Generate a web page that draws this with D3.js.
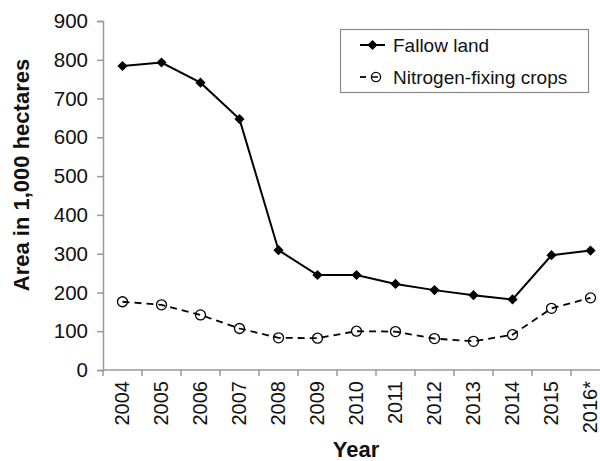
<!DOCTYPE html>
<html>
<head>
<meta charset="utf-8">
<script src="https://cdn.jsdelivr.net/npm/d3@7"></script>
<style>
  body { margin: 0; background: #fff; }
  text { font-family: "Liberation Sans", Arial, sans-serif; fill: #111; }
</style>
</head>
<body>
<svg id="chart" width="600" height="461"></svg>
<script>
// values (1,000 ha)
const years = ["2004", "2005", "2006", "2007", "2008", "2009", "2010", "2011", "2012", "2013", "2014", "2015", "2016*"];
const fallow = [784, 793, 741, 647, 309, 245, 245, 222, 206, 193, 182, 296, 308];
const nitrogen = [176, 168, 142, 107, 83, 82, 100, 99, 81, 74, 91, 159, 186];
const yTicks = [0, 100, 200, 300, 400, 500, 600, 700, 800, 900];

const svg = d3.select("#chart");
const axisColor = "#999";

const x = d3.scaleBand().domain(years).range([103, 610]);
const y = d3.scaleLinear().domain([0, 900]).range([370, 21]);

// y axis
const yAxis = svg.append("g")
    .attr("transform", "translate(103,0)")
    .call(d3.axisLeft(y).tickValues(yTicks).tickSize(6).tickPadding(9));
yAxis.select(".domain").attr("stroke", axisColor).attr("stroke-width", 1.5);
yAxis.selectAll(".tick line").attr("stroke", axisColor).attr("stroke-width", 1.5);
yAxis.selectAll(".tick text").attr("font-size", 20.5).attr("fill", "#111")
    .attr("font-family", "Liberation Sans, Arial, sans-serif");

// x axis line + ticks between categories
svg.append("line")
    .attr("x1", 103).attr("x2", 610)
    .attr("y1", y(0)).attr("y2", y(0))
    .attr("stroke", axisColor).attr("stroke-width", 1.5);

svg.selectAll(".xtick")
    .data(years)
    .enter()
    .append("line")
    .attr("x1", d => x(d)).attr("x2", d => x(d))
    .attr("y1", y(0)).attr("y2", y(0) + 6)
    .attr("stroke", axisColor).attr("stroke-width", 1.5);

svg.selectAll(".xlabel")
    .data(years)
    .enter()
    .append("text")
    .attr("transform", d => `translate(${x(d) + x.bandwidth() / 2 - 1},${y(0) + 11}) rotate(-90)`)
    .attr("text-anchor", "end")
    .attr("dy", "0.35em")
    .attr("font-size", 20)
    .text(d => d);

// axis titles
svg.append("text")
    .attr("transform", `translate(29,${y(0) - 195}) rotate(-90)`)
    .attr("text-anchor", "middle")
    .attr("font-size", 22)
    .attr("font-weight", "bold")
    .text("Area in 1,000 hectares");

svg.append("text")
    .attr("x", 356).attr("y", 457)
    .attr("text-anchor", "middle")
    .attr("font-size", 22)
    .attr("font-weight", "bold")
    .text("Year");

const cx = (d, i) => x(years[i]) + x.bandwidth() / 2;
const line = d3.line().x(cx).y(d => y(d));

// nitrogen-fixing crops, dashed with open circles
svg.append("path")
    .datum(nitrogen)
    .attr("d", line)
    .attr("fill", "none")
    .attr("stroke", "#000")
    .attr("stroke-width", 1.8)
    .attr("stroke-dasharray", "7,5");

svg.selectAll(".ncirc")
    .data(nitrogen)
    .enter()
    .append("circle")
    .attr("cx", cx)
    .attr("cy", d => y(d))
    .attr("r", 5)
    .attr("fill", "none")
    .attr("stroke", "#000")
    .attr("stroke-width", 1.3);

// fallow land, solid with diamonds
svg.append("path")
    .datum(fallow)
    .attr("d", line)
    .attr("fill", "none")
    .attr("stroke", "#000")
    .attr("stroke-width", 2);

const diamond = d3.symbol().type(d3.symbolSquare).size(52);
svg.selectAll(".fdiam")
    .data(fallow)
    .enter()
    .append("path")
    .attr("d", diamond)
    .attr("transform", (d, i) => `translate(${cx(d, i)},${y(d)}) rotate(45)`)
    .attr("fill", "#000");

// legend
const legend = svg.append("g");
legend.append("rect")
    .attr("x", 340.5).attr("y", 29.5)
    .attr("width", 248).attr("height", 63)
    .attr("fill", "#fff")
    .attr("stroke", "#888")
    .attr("stroke-width", 1.2);

legend.append("line")
    .attr("x1", 360).attr("x2", 385).attr("y1", 45).attr("y2", 45)
    .attr("stroke", "#000").attr("stroke-width", 2);
legend.append("path")
    .attr("d", diamond)
    .attr("transform", "translate(372.5,45) rotate(45)")
    .attr("fill", "#000");
legend.append("text")
    .attr("x", 393).attr("y", 51.5)
    .attr("font-size", 19)
    .text("Fallow land");

legend.append("line")
    .attr("x1", 360).attr("x2", 366).attr("y1", 77).attr("y2", 77)
    .attr("stroke", "#000").attr("stroke-width", 1.8);
legend.append("line")
    .attr("x1", 372).attr("x2", 378).attr("y1", 77).attr("y2", 77)
    .attr("stroke", "#000").attr("stroke-width", 1.5);
legend.append("circle")
    .attr("cx", 376).attr("cy", 77).attr("r", 4.6)
    .attr("fill", "none").attr("stroke", "#000").attr("stroke-width", 1.3);
legend.append("text")
    .attr("x", 393).attr("y", 83.5)
    .attr("font-size", 19)
    .text("Nitrogen-fixing crops");
</script>
</body>
</html>
